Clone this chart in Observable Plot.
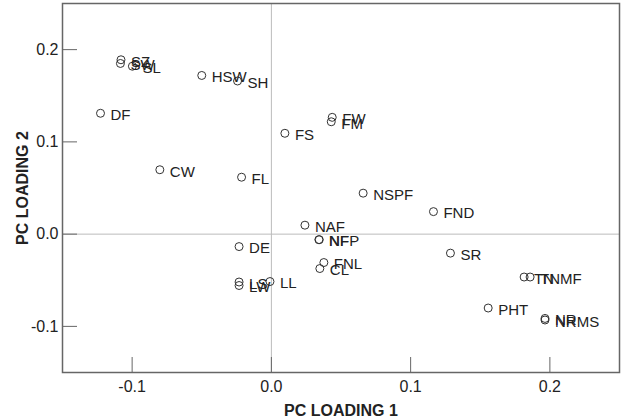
<!DOCTYPE html>
<html>
<head>
<meta charset="utf-8">
<script src="https://cdn.jsdelivr.net/npm/d3@7"></script>
<script src="https://cdn.jsdelivr.net/npm/@observablehq/plot@0.6"></script>
<style>
  html, body { margin: 0; padding: 0; background: #fff; }
  #chart svg { display: block; font-family: "Liberation Sans", Arial, sans-serif; }
</style>
</head>
<body>
<div id="chart"></div>
<script>
const labels = ["SZ","SW","SL","HSW","SH","DF","CW","FL","FS","FW","FM","NSPF","FND","NAF","NF","NFP","FNL","CL","DE","LS","LW","LL","SR","TN","TNMF","PHT","NR","NRMS"];
const pc1 = [-0.108,-0.1084,-0.0998,-0.0500,-0.0243,-0.1227,-0.0801,-0.0214,0.0097,0.0437,0.0430,0.0659,0.1164,0.0241,0.0341,0.0344,0.0377,0.0348,-0.0232,-0.0232,-0.0232,-0.0010,0.1286,0.1815,0.1858,0.1557,0.1965,0.1965];
const pc2 = [0.189,0.185,0.182,0.172,0.166,0.131,0.0698,0.0617,0.1093,0.1266,0.1218,0.0444,0.0244,0.0097,-0.0060,-0.0060,-0.0308,-0.0373,-0.0135,-0.0519,-0.0557,-0.0514,-0.0206,-0.0465,-0.0465,-0.0801,-0.0914,-0.0931];
const xTicks = [-0.1, 0.0, 0.1, 0.2];
const yTicks = [-0.1, 0.0, 0.1, 0.2];
const xDomain = [-0.15, 0.25];
const yDomain = [-0.15, 0.25];

const data = labels.map((l, i) => ({label: l, x: pc1[i], y: pc2[i]}));

const W = 621, H = 417, ML = 62, MR = 2, MT = 3, MB = 45, TICK = 15;
const fmt = d => d.toFixed(1);
// inward tick length expressed in each scale's units
const tickLenY = (yDomain[1] - yDomain[0]) * TICK / (H - MT - MB);
const tickLenX = (xDomain[1] - xDomain[0]) * TICK / (W - ML - MR);

const chart = Plot.plot({
  width: W,
  height: H,
  marginLeft: ML,
  marginRight: MR,
  marginTop: MT,
  marginBottom: MB,
  style: {fontFamily: "Liberation Sans, Arial, sans-serif", background: "#fff"},
  x: {domain: xDomain},
  y: {domain: yDomain},
  marks: [
    Plot.ruleX([0], {stroke: "#bbb", strokeWidth: 1}),
    Plot.ruleY([0], {stroke: "#bbb", strokeWidth: 1}),
    Plot.ruleX(xTicks, {x: d => d, y1: yDomain[0], y2: yDomain[0] + tickLenY, stroke: "#666", strokeWidth: 1}),
    Plot.ruleY(yTicks, {y: d => d, x1: xDomain[0], x2: xDomain[0] + tickLenX, stroke: "#666", strokeWidth: 1}),
    Plot.frame({stroke: "#666", strokeWidth: 1.5}),
    Plot.axisX(xTicks, {tickSize: 0, tickPadding: 8, fontSize: 16, fill: "#222", tickFormat: fmt,
      label: "PC LOADING 1", labelAnchor: "center", labelOffset: 43, labelArrow: "none"}),
    Plot.axisY(yTicks, {tickSize: 0, tickPadding: 4, fontSize: 16, fill: "#222", tickFormat: fmt,
      label: "PC LOADING 2", labelAnchor: "center", labelOffset: 46, labelArrow: "none"}),
    Plot.dot(data, {x: "x", y: "y", r: 4, stroke: "#333", strokeWidth: 1, fill: "none"}),
    Plot.text(data, {x: "x", y: "y", text: "label", dx: 10, dy: 2, textAnchor: "start", fontSize: 15, fill: "#222"})
  ]
});
document.getElementById("chart").appendChild(chart);
chart.querySelectorAll("g[aria-label='x-axis label'] text, g[aria-label='y-axis label'] text").forEach(t => {
  t.setAttribute("font-weight", "bold");
  t.setAttribute("font-size", "16");
});
</script>
</body>
</html>
